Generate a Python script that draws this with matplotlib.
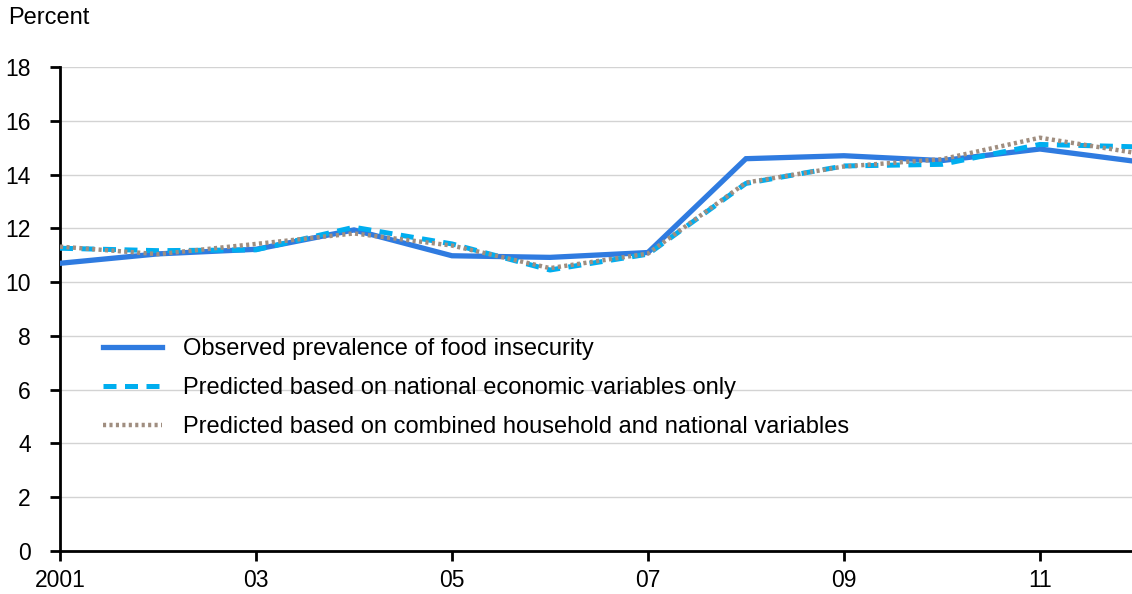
import matplotlib
matplotlib.use("Agg")
import matplotlib.pyplot as plt
from matplotlib.lines import Line2D

years = [2001, 2002, 2003, 2004, 2005, 2006, 2007, 2008, 2009, 2010, 2011, 2012]
observed = [10.70, 11.05, 11.22, 11.94, 10.98, 10.92, 11.10, 14.59, 14.70, 14.52, 14.95, 14.48]
pred_national = [11.26, 11.17, 11.20, 12.04, 11.42, 10.45, 11.04, 13.67, 14.32, 14.38, 15.12, 15.03]
pred_combined = [11.32, 11.04, 11.42, 11.81, 11.36, 10.52, 11.06, 13.70, 14.30, 14.57, 15.37, 14.79]

xticks = [2001, 2003, 2005, 2007, 2009, 2011]
xticklabels = ["2001", "03", "05", "07", "09", "11"]
yticks = [0, 2, 4, 6, 8, 10, 12, 14, 16, 18]

labels = ["Observed prevalence of food insecurity",
          "Predicted based on national economic variables only",
          "Predicted based on combined household and national variables"]

plt.rcParams['font.family'] = ['Liberation Sans', 'DejaVu Sans']

fig = plt.figure(figsize=(11.32, 5.94), dpi=100)
ax = fig.add_axes([60/1132, 1 - 551/594, 1 - 60/1132, (551 - 67)/594])

c_obs = "#2F7BE0"
c_nat = "#00AEEF"
c_comb = "#A08E80"
ls_nat = (0, (2.6, 1.7))
ls_comb = (0, (0.7, 0.75))

ax.plot(years, observed, color=c_obs, lw=3.8, solid_joinstyle='miter', zorder=3)
ax.plot(years, pred_national, color=c_nat, lw=3.6, linestyle=ls_nat, zorder=4)
ax.plot(years, pred_combined, color=c_comb, lw=3.2, linestyle=ls_comb, zorder=5)

ax.set_xlim(2001, 2011.94)
ax.set_ylim(0, 18)
ax.set_xticks(xticks)
ax.set_xticklabels(xticklabels)
ax.set_yticks(yticks)
ax.tick_params(axis='both', labelsize=16.5, width=2, length=7, color='black')
ax.tick_params(axis='x', direction='out', pad=6)
ax.tick_params(axis='y', direction='out', pad=14)

for s in ['top', 'right']:
    ax.spines[s].set_visible(False)
for s in ['left', 'bottom']:
    ax.spines[s].set_linewidth(2)
ax.yaxis.grid(True, color='#d3d3d3', lw=1)
ax.set_axisbelow(True)

handles = [Line2D([], [], color=c_obs, lw=3.8),
           Line2D([], [], color=c_nat, lw=3.6, linestyle=ls_nat),
           Line2D([], [], color=c_comb, lw=3.2, linestyle=ls_comb)]
leg = ax.legend(handles, labels, loc='upper left',
                bbox_to_anchor=((103 - 60) / 1072, (551 - 338) / 484),
                frameon=False, fontsize=17, handlelength=2.5, handletextpad=0.9,
                labelspacing=0.72, borderpad=0, borderaxespad=0)

fig.text(8/1132, 1 - 18/594, "Percent", fontsize=17, va='center', ha='left')

fig.savefig("out.png", dpi=100)
